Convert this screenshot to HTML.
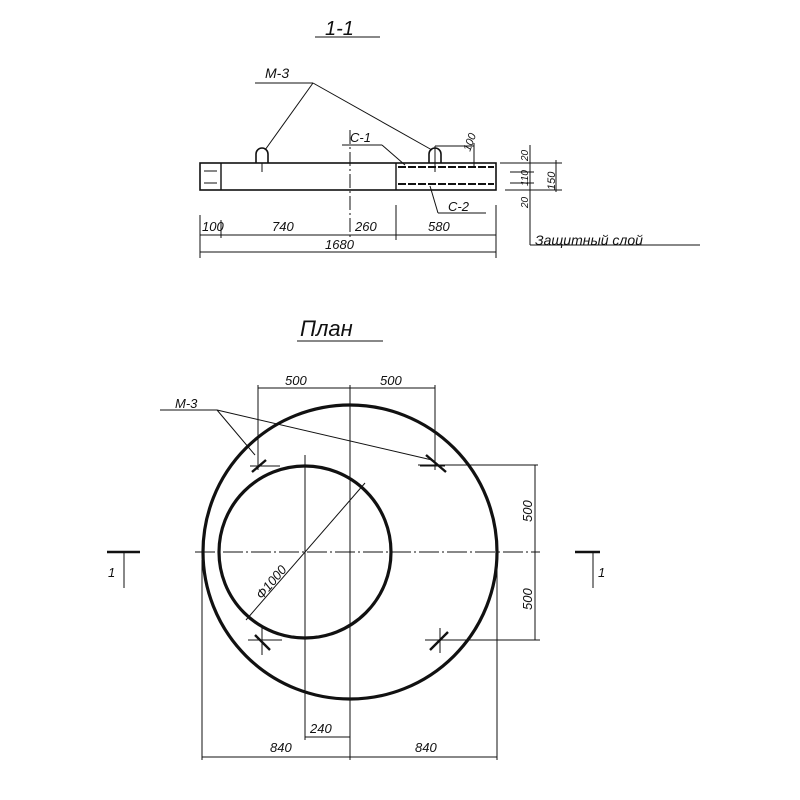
<!DOCTYPE html>
<html><head><meta charset="utf-8"><style>body{margin:0;background:#fff}svg{display:block}text{font-family:"Liberation Sans",sans-serif;font-style:italic;fill:#111}</style></head><body>
<svg width="800" height="800" viewBox="0 0 800 800" xmlns="http://www.w3.org/2000/svg" stroke="#111" fill="none" stroke-width="1">
<text x="325" y="35" font-size="20" stroke="none">1-1</text>
<line x1="315" y1="37" x2="380" y2="37"/>
<text x="265" y="78" font-size="14" stroke="none">М-3</text>
<line x1="255" y1="83" x2="313" y2="83"/>
<line x1="313" y1="83" x2="265" y2="150"/>
<line x1="313" y1="83" x2="432" y2="150"/>
<rect x="200" y="163" width="296" height="27" stroke-width="1.6"/>
<line x1="221" y1="163" x2="221" y2="190" stroke-width="1.4"/>
<line x1="396" y1="163" x2="396" y2="190" stroke-width="1.4"/>
<line x1="204" y1="171" x2="217" y2="171"/><line x1="204" y1="183" x2="217" y2="183"/>
<line x1="398" y1="167" x2="494" y2="167" stroke-width="2" stroke-dasharray="8,2"/>
<line x1="398" y1="184" x2="494" y2="184" stroke-width="2" stroke-dasharray="8,2"/>
<path d="M256 163 V154 a6 6 0 0 1 12 0 V163" stroke-width="1.6"/>
<line x1="262" y1="163" x2="262" y2="172"/>
<path d="M429 163 V154 a6 6 0 0 1 12 0 V163" stroke-width="1.6"/>
<line x1="435" y1="146" x2="435" y2="172"/>
<line x1="435" y1="146" x2="474" y2="146"/><line x1="474" y1="143" x2="474" y2="167"/>
<text transform="translate(470,152) rotate(-70)" font-size="11" stroke="none">100</text>
<line x1="350" y1="130" x2="350" y2="240" stroke-dasharray="14,3,2,3"/>
<text x="350" y="142" font-size="13" stroke="none">С-1</text>
<line x1="342" y1="145" x2="382" y2="145"/><line x1="382" y1="145" x2="405" y2="165"/>
<text x="448" y="211" font-size="13" stroke="none">С-2</text>
<line x1="438" y1="213" x2="486" y2="213"/><line x1="438" y1="213" x2="430" y2="186"/>
<line x1="500" y1="163" x2="562" y2="163"/><line x1="505" y1="190" x2="562" y2="190"/>
<line x1="510" y1="172" x2="534" y2="172"/><line x1="510" y1="183" x2="534" y2="183"/>
<line x1="530" y1="145" x2="530" y2="245"/><line x1="556" y1="160" x2="556" y2="192"/>
<line x1="530" y1="245" x2="700" y2="245"/>
<text transform="translate(528,161) rotate(-90)" font-size="10" stroke="none">20</text>
<text transform="translate(528,186) rotate(-90)" font-size="10" stroke="none">110</text>
<text transform="translate(528,208) rotate(-90)" font-size="10" stroke="none">20</text>
<text transform="translate(555,190) rotate(-90)" font-size="11" stroke="none">150</text>
<text x="535" y="245" font-size="14" stroke="none">Защитный слой</text>
<line x1="200" y1="215" x2="200" y2="258"/><line x1="221" y1="220" x2="221" y2="238"/>
<line x1="396" y1="205" x2="396" y2="240"/><line x1="496" y1="205" x2="496" y2="258"/>
<line x1="200" y1="235" x2="496" y2="235"/><line x1="200" y1="252" x2="496" y2="252"/>
<text x="202" y="231" font-size="13" stroke="none">100</text>
<text x="272" y="231" font-size="13" stroke="none">740</text>
<text x="355" y="231" font-size="13" stroke="none">260</text>
<text x="428" y="231" font-size="13" stroke="none">580</text>
<text x="325" y="249" font-size="13" stroke="none">1680</text>
<text x="300" y="336" font-size="22" stroke="none">План</text>
<line x1="297" y1="341" x2="383" y2="341"/>
<circle cx="350" cy="552" r="147" stroke-width="3.2"/>
<circle cx="305" cy="552" r="86" stroke-width="3.2"/>
<line x1="195" y1="552" x2="540" y2="552" stroke-dasharray="20,3,2,3"/>
<line x1="350" y1="385" x2="350" y2="760"/>
<line x1="305" y1="455" x2="305" y2="740"/>
<line x1="202" y1="560" x2="202" y2="760"/><line x1="497" y1="560" x2="497" y2="760"/>
<line x1="365" y1="483" x2="246" y2="620"/>
<text transform="translate(262,600) rotate(-50)" font-size="13" stroke="none">Ф1000</text>
<line x1="258" y1="388" x2="435" y2="388"/>
<line x1="258" y1="385" x2="258" y2="470"/><line x1="435" y1="385" x2="435" y2="470"/>
<text x="285" y="385" font-size="13" stroke="none">500</text>
<text x="380" y="385" font-size="13" stroke="none">500</text>
<line x1="418" y1="465" x2="538" y2="465"/><line x1="425" y1="640" x2="540" y2="640"/>
<line x1="535" y1="465" x2="535" y2="640"/>
<text transform="translate(532,522) rotate(-90)" font-size="13" stroke="none">500</text>
<text transform="translate(532,610) rotate(-90)" font-size="13" stroke="none">500</text>
<g stroke-width="2.4"><line x1="252" y1="472" x2="266" y2="460"/><line x1="426" y1="455" x2="446" y2="472"/><line x1="255" y1="635" x2="270" y2="650"/><line x1="430" y1="650" x2="448" y2="632"/></g>
<line x1="250" y1="466" x2="280" y2="466"/><line x1="420" y1="466" x2="445" y2="466"/>
<line x1="248" y1="640" x2="282" y2="640"/><line x1="425" y1="640" x2="450" y2="640"/>
<line x1="262" y1="625" x2="262" y2="655"/><line x1="440" y1="628" x2="440" y2="653"/>
<text x="175" y="408" font-size="13" stroke="none">М-3</text>
<line x1="160" y1="410" x2="217" y2="410"/>
<line x1="217" y1="410" x2="255" y2="455"/><line x1="217" y1="410" x2="432" y2="460"/>
<line x1="305" y1="737" x2="350" y2="737"/>
<text x="310" y="733" font-size="13" stroke="none">240</text>
<line x1="202" y1="757" x2="497" y2="757"/>
<text x="270" y="752" font-size="13" stroke="none">840</text>
<text x="415" y="752" font-size="13" stroke="none">840</text>
<line x1="107" y1="552" x2="140" y2="552" stroke-width="2.5"/><line x1="124" y1="552" x2="124" y2="588"/>
<text x="108" y="577" font-size="13" stroke="none">1</text>
<line x1="575" y1="552" x2="600" y2="552" stroke-width="2.5"/><line x1="593" y1="552" x2="593" y2="588"/>
<text x="598" y="577" font-size="13" stroke="none">1</text>
</svg>
</body></html>
